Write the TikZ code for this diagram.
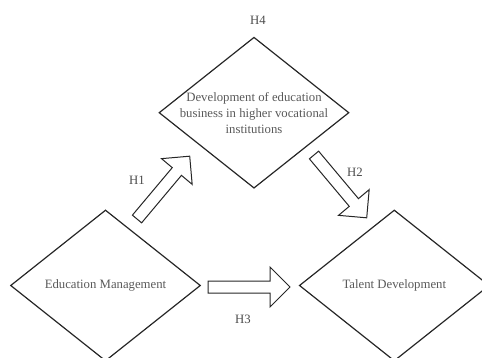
\documentclass[tikz,border=0pt]{standalone}
\usepackage{fontspec}
\setmainfont{Liberation Serif}
\usetikzlibrary{shapes.geometric}

\begin{document}
\begin{tikzpicture}[x=1pt, y=-1pt,
  factor/.style={diamond, draw=black!85, line width=1.2pt, minimum width=190pt, minimum height=151pt, inner sep=0pt},
  factortext/.style={text=black!65, font=\fontsize{12.75}{16}\selectfont, align=center, inner sep=0pt},
  hyplabel/.style={text=black!70, font=\fontsize{12.75}{16}\selectfont, inner sep=0pt},
  blockline/.style={draw=black!85, line width=1pt, line join=miter}]
\newcommand{\Arrlen}{82} % block arrow length
\newcommand{\Headlen}{20} % head length
\newcommand{\Shaft}{6} % half shaft width
\newcommand{\Head}{20} % half head width

\useasboundingbox (0,0) rectangle (482,358);
\clip (0,0) rectangle (482,358);

% factors
\node[factor] (dev) at (254,112.7) {};
\node[factor] (edu) at (105.5,285.5) {};
\node[factor] (tal) at (394.3,285.5) {};

\node[factortext] (devtext) at (dev.center) {Development of education\\business in higher vocational\\institutions};
\node[factortext] (edutext) at (edu.center) {Education Management};
\node[factortext] (taltext) at (tal.center) {Talent Development};

% block arrows
\coordinate (H1tail) at (137,219);
\coordinate (H2tail) at (314,155);
\coordinate (H3tail) at (208,287);

\draw[blockline, shift={(H1tail)}, rotate=50] (0,-\Shaft) -- (\Arrlen-\Headlen,-\Shaft) -- (\Arrlen-\Headlen,-\Head) -- (\Arrlen,0) -- (\Arrlen-\Headlen,\Head) -- (\Arrlen-\Headlen,\Shaft) -- (0,\Shaft) -- cycle;
\draw[blockline, shift={(H2tail)}, rotate=-50] (0,-\Shaft) -- (\Arrlen-\Headlen,-\Shaft) -- (\Arrlen-\Headlen,-\Head) -- (\Arrlen,0) -- (\Arrlen-\Headlen,\Head) -- (\Arrlen-\Headlen,\Shaft) -- (0,\Shaft) -- cycle;
\draw[blockline, shift={(H3tail)}] (0,-\Shaft) -- (\Arrlen-\Headlen,-\Shaft) -- (\Arrlen-\Headlen,-\Head) -- (\Arrlen,0) -- (\Arrlen-\Headlen,\Head) -- (\Arrlen-\Headlen,\Shaft) -- (0,\Shaft) -- cycle;

% hypotheses
\node[hyplabel] (H4) at (258,20.7) {H4};
\node[hyplabel] (H1) at (137,180) {H1};
\node[hyplabel] (H2) at (355,172) {H2};
\node[hyplabel] (H3) at (243,319) {H3};
\end{tikzpicture}
\end{document}
